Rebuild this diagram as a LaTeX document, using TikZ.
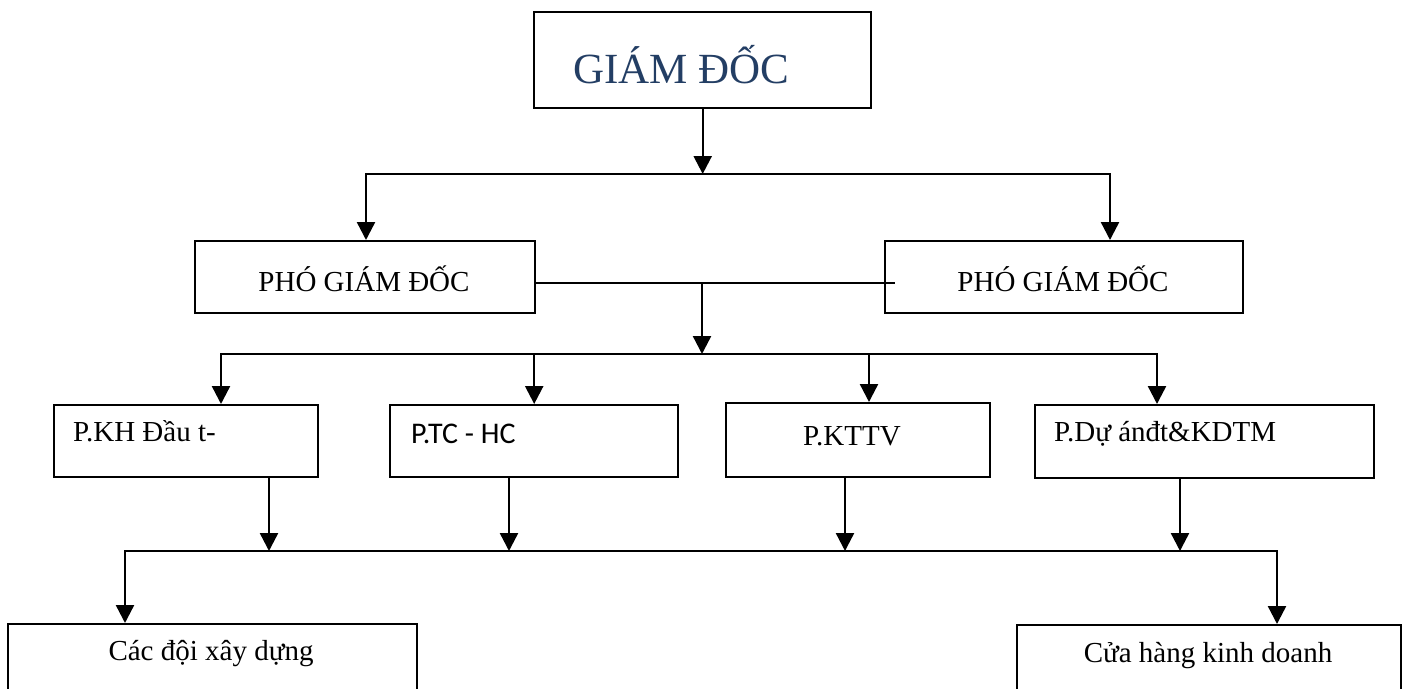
\documentclass[tikz,border=0pt]{standalone}
\usepackage{fontspec}
\setmainfont{Liberation Serif}
\newfontfamily\calfont{Carlito}
\usetikzlibrary{arrows.meta}
\definecolor{gdblue}{RGB}{35,62,100}
\begin{document}
\begin{tikzpicture}[x=1pt,y=-1pt,
  box/.style={draw, line width=2.4pt, anchor=north west, inner sep=0pt},
  ln/.style={line width=2.4pt, line cap=rect},
  arr/.style={line width=2.4pt, line cap=rect, -{Triangle[width=18pt,length=18pt]}},
  txt/.style={inner sep=0pt, font=\fontsize{29}{34}\selectfont}]
\useasboundingbox (0,0) rectangle (1405,688);
\fill[white] (0,0) rectangle (1405,688);
\clip (0,0) rectangle (1405,688);

% boxes
\node[box, minimum width=337pt, minimum height=96pt] (gd) at (533,11) {};
\node[box, minimum width=340pt, minimum height=72pt] (pg1) at (194,240) {};
\node[box, minimum width=358pt, minimum height=72pt] (pg2) at (884,240) {};
\node[box, minimum width=264pt, minimum height=72pt] (kh) at (53,404) {};
\node[box, minimum width=288pt, minimum height=72pt] (tc) at (389,404) {};
\node[box, minimum width=264pt, minimum height=74pt] (kt) at (725,402) {};
\node[box, minimum width=339pt, minimum height=73pt] (da) at (1034,404) {};
\node[box, minimum width=409pt, minimum height=90pt] (dx) at (7,623) {};
\node[box, minimum width=384pt, minimum height=90pt] (ch) at (1016,624) {};

% texts
\node[inner sep=0pt, anchor=base west, text=gdblue, font=\fontsize{43}{50}\selectfont] (tgd) at (573,83) {GIÁM ĐỐC};
\node[txt, anchor=base] (tpg1) at (364,291) {PHÓ GIÁM ĐỐC};
\node[txt, anchor=base] (tpg2) at (1063,291) {PHÓ GIÁM ĐỐC};
\node[txt, anchor=base west] (tkh) at (73,441) {P.KH Đầu t-};
\node[inner sep=0pt, anchor=base west, font=\calfont\fontsize{30}{35}\selectfont] (ttc) at (411,443) {P.TC - HC};
\node[txt, anchor=base west] (tkt) at (803,445) {P.KTTV};
\node[txt, anchor=base west] (tda) at (1054,441) {P.Dự ánđt\&KDTM};
\node[txt, anchor=base] (tdx) at (211,660) {Các đội xây dựng};
\node[txt, anchor=base] (tch) at (1208,662) {Cửa hàng kinh doanh};

% junction coordinates
\coordinate (j1) at (701.5,174);
\coordinate (a1) at (366,174);
\coordinate (a2) at (1110,174);
\coordinate (m1) at (702,283);
\coordinate (m2) at (894,283);
\coordinate (j2) at (702,354);
\coordinate (h1) at (221,354);
\coordinate (h3) at (869,354);
\coordinate (h4) at (1157,354);
\coordinate (b1) at (269,551);
\coordinate (b2) at (509,551);
\coordinate (b3) at (845,551);
\coordinate (b4) at (1180,551);
\coordinate (bl) at (125,551);
\coordinate (br) at (1277,551);

% level 1
\draw[arr] (gd.south) -- (gd.south |- j1);
\draw[ln] (a1) -- (a2);
\draw[arr] (a1) -- (a1 |- pg1.north);
\draw[arr] (a2) -- (a2 |- pg2.north);

% link between deputies
\draw[ln] (pg1.east |- m1) -- (m2);
\draw[arr] (m1) -- (j2);

% level 2
\draw[ln] (h1) -- (h4);
\draw[arr] (h1) -- (h1 |- kh.north);
\draw[arr] (h4) -- (h4 |- da.north);
\draw[arr] (tc.north |- j2) -- (tc.north);
\draw[arr] (h3) -- (h3 |- kt.north);

% level 3
\draw[arr] (kh.south -| b1) -- (b1);
\draw[arr] (tc.south -| b2) -- (b2);
\draw[arr] (kt.south -| b3) -- (b3);
\draw[arr] (da.south -| b4) -- (b4);
\draw[ln] (bl) -- (br);
\draw[arr] (bl) -- (bl |- dx.north);
\draw[arr] (br) -- (br |- ch.north);
\end{tikzpicture}
\end{document}
